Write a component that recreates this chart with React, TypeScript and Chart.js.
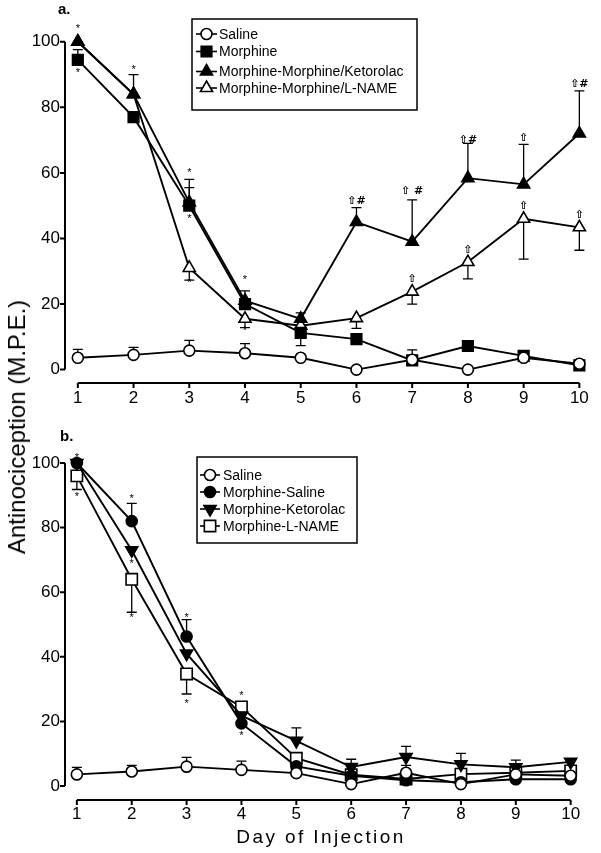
import React, { useEffect, useRef } from "react";
import { Chart, registerables } from "chart.js";
Chart.register(...registerables);

const DAYS = [1, 2, 3, 4, 5, 6, 7, 8, 9, 10];
const Y_TICKS = [0, 20, 40, 60, 80, 100];

// ---- Panel a ----
const A_LABELS = ["Saline", "Morphine", "Morphine-Morphine/Ketorolac", "Morphine-Morphine/L-NAME"];
const A_SALINE = [3.6, 4.5, 5.8, 5.0, 3.6, 0, 3.0, 0, 3.6, 1.8];
const A_MORPHINE = [94.5, 77, 50, 20, 11.2, 9.3, 2.8, 7.2, 4.2, 1.3];
const A_KETOROLAC = [100, 84, 51, 21, 15.5, 45, 39, 58.4, 56.5, 72];
const A_LNAME = [100, 84, 31, 15.5, 13.4, 15.7, 23.8, 32.8, 46, 43.4];
const A_SALINE_ERR = [6.2, 6.8, 8.9, 7.9, null, null, 6.0, null, null, null];
const A_MORPHINE_ERR = [97.6, null, 55.5, 24, 7.3, null, null, null, null, null];
const A_KETOROLAC_ERR = [null, 90, 58, null, 17.3, 49.4, 51.8, 69, 68.7, 85];
const A_LNAME_ERR = [null, null, 27.3, 12.8, null, 12.6, 20, 27.7, 33.7, 36.4];
const A_MARK_X = [1, 1, 2, 3, 3, 3, 4, 4, 6, 7, 8, 9, 10, 7, 8, 9, 10];
const A_MARK_Y = [104, 90.6, 91.5, 60, 46, 26.3, 27.2, 11.9, 51.3, 54.5, 70, 70.5, 87, 27.5, 36.5, 50, 47];
const A_MARK_T = ["*", "*", "*", "*", "*", "*", "*", "*", "\u21E7#", "\u21E7 #", "\u21E7#", "\u21E7", "\u21E7#", "\u21E7", "\u21E7", "\u21E7", "\u21E7"];

// ---- Panel b ----
const B_LABELS = ["Saline", "Morphine-Saline", "Morphine-Ketorolac", "Morphine-L-NAME"];
const B_SALINE = [3.6, 4.5, 6.0, 5.0, 4.0, 0.6, 4.1, 0.6, 3.6, 3.2];
const B_MSALINE = [100, 82, 46.3, 19.4, 6.1, 3.2, 1.8, 1.2, 2.1, 2.1];
const B_KETOROLAC = [100, 73, 41, 21.8, 14, 5.9, 9, 6.7, 5.8, 7.5];
const B_LNAME = [96, 64, 34.7, 24.5, 8.6, 3.5, 2.2, 3.7, 4.1, 4.7];
const B_SALINE_ERR = [5.8, 6.4, 8.9, 7.7, null, null, 6.4, null, null, null];
const B_MSALINE_ERR = [null, 87.5, 51.5, null, null, null, null, null, null, null];
const B_KETOROLAC_ERR = [null, null, null, null, 18, 8.3, 12.3, 10.1, 8, 8.4];
const B_LNAME_ERR = [91.8, 53.8, 28.5, null, null, null, null, null, null, null];
const B_MARK_X = [1, 1, 2, 2, 2, 3, 3, 4, 4];
const B_MARK_Y = [101.5, 89.5, 89, 68.7, 52, 52, 25.5, 28, 15.6];
const B_MARK_T = ["*", "*", "*", "*", "*", "*", "*", "*", "*"];

const FONT = "'Liberation Sans', Arial, Helvetica, sans-serif";

type PanelCfg = {
  label: string;
  labelPos: [number, number];
  xMin: number;
  xMax: number;
  yMin: number;
  yMax: number;
  padTop: number;
  xHeight: number;
  axisY: number;
  legend: { x: number; y: number; w: number; h: number; rows: number[]; lineX0: number; lineX1: number; textX: number };
  marks: { x: number[]; y: number[]; t: string[] };
};

function drawMarker(ctx: CanvasRenderingContext2D, style: string, rot: number, x: number, y: number, r: number, fill: string) {
  ctx.beginPath();
  if (style === "circle") {
    ctx.arc(x, y, r, 0, Math.PI * 2);
  } else if (style === "rect") {
    const s = r * Math.SQRT1_2;
    ctx.rect(x - s, y - s, 2 * s, 2 * s);
  } else {
    const d = rot === 180 ? -1 : 1;
    ctx.moveTo(x, y - d * r);
    ctx.lineTo(x + r * 0.866, y + d * r * 0.5);
    ctx.lineTo(x - r * 0.866, y + d * r * 0.5);
    ctx.closePath();
  }
  ctx.fillStyle = fill;
  ctx.fill();
  ctx.lineWidth = 1.6;
  ctx.strokeStyle = "#000";
  ctx.stroke();
}

const decorPlugin = {
  id: "decor",
  beforeDatasetsDraw(chart: any) {
    const ctx: CanvasRenderingContext2D = chart.ctx;
    const xs = chart.scales.x;
    const ys = chart.scales.y;
    ctx.save();
    ctx.strokeStyle = "#000";
    ctx.lineWidth = 1.3;
    chart.data.datasets.forEach((ds: any) => {
      const err = ds.errEnd as (number | null)[];
      if (!err) return;
      ds.data.forEach((p: any, i: number) => {
        const e = err[i];
        if (e === null || e === undefined) return;
        const px = xs.getPixelForValue(p.x);
        const py0 = ys.getPixelForValue(p.y);
        const py1 = ys.getPixelForValue(e);
        ctx.beginPath();
        ctx.moveTo(px, py0);
        ctx.lineTo(px, py1);
        ctx.moveTo(px - 5, py1);
        ctx.lineTo(px + 5, py1);
        ctx.stroke();
      });
    });
    ctx.restore();
  },
  afterDraw(chart: any) {
    const cfg: PanelCfg = chart.options.plugins.decor.cfg;
    const ctx: CanvasRenderingContext2D = chart.ctx;
    const xs = chart.scales.x;
    const ys = chart.scales.y;
    const left = chart.chartArea.left;
    ctx.save();
    ctx.strokeStyle = "#000";
    ctx.lineWidth = 2;
    // y axis
    ctx.beginPath();
    ctx.moveTo(left, ys.getPixelForValue(Y_TICKS[0]));
    ctx.lineTo(left, ys.getPixelForValue(Y_TICKS[Y_TICKS.length - 1]));
    Y_TICKS.forEach((v) => {
      const py = ys.getPixelForValue(v);
      ctx.moveTo(left - 5, py);
      ctx.lineTo(left, py);
    });
    ctx.stroke();
    // x axis (offset)
    ctx.beginPath();
    ctx.moveTo(xs.getPixelForValue(DAYS[0]), cfg.axisY);
    ctx.lineTo(xs.getPixelForValue(DAYS[DAYS.length - 1]), cfg.axisY);
    DAYS.forEach((d) => {
      const px = xs.getPixelForValue(d);
      ctx.moveTo(px, cfg.axisY);
      ctx.lineTo(px, cfg.axisY + 5);
    });
    ctx.stroke();

    // significance marks
    ctx.fillStyle = "#000";
    ctx.textAlign = "center";
    ctx.textBaseline = "middle";
    cfg.marks.t.forEach((t, i) => {
      ctx.font = t === "*" ? `11px ${FONT}` : `bold 11px 'DejaVu Sans', sans-serif`;
      ctx.fillText(t, xs.getPixelForValue(cfg.marks.x[i]), ys.getPixelForValue(cfg.marks.y[i]));
    });

    // legend
    const L = cfg.legend;
    ctx.lineWidth = 1.5;
    ctx.strokeRect(L.x, L.y, L.w, L.h);
    ctx.font = `14px ${FONT}`;
    ctx.textAlign = "left";
    chart.data.datasets.forEach((ds: any, i: number) => {
      const ry = L.rows[i];
      ctx.beginPath();
      ctx.lineWidth = 1.6;
      ctx.moveTo(L.lineX0, ry);
      ctx.lineTo(L.lineX1, ry);
      ctx.stroke();
      drawMarker(ctx, ds.pointStyle, ds.pointRotation || 0, (L.lineX0 + L.lineX1) / 2, ry, ds.pointRadius, ds.pointBackgroundColor);
      ctx.fillStyle = "#000";
      ctx.fillText(ds.label, L.textX, ry + 1);
    });

    // panel label
    ctx.font = `bold 15px ${FONT}`;
    ctx.textAlign = "left";
    ctx.fillText(cfg.label, cfg.labelPos[0], cfg.labelPos[1]);
    ctx.restore();
  },
};

function mkDataset(label: string, values: number[], err: (number | null)[], style: string, radius: number, fill: string, rotation = 0) {
  return {
    label,
    data: DAYS.map((d, i) => ({ x: d, y: values[i] })),
    errEnd: err,
    borderColor: "#000",
    borderWidth: 1.9,
    pointStyle: style,
    pointRotation: rotation,
    pointRadius: radius,
    pointBorderWidth: 1.6,
    pointBackgroundColor: fill,
    pointBorderColor: "#000",
    tension: 0,
    clip: false,
  };
}

function makeConfig(cfg: PanelCfg, datasets: any[]): any {
  return {
    type: "line",
    data: { datasets },
    options: {
      animation: false,
      responsive: false,
      maintainAspectRatio: false,
      events: [],
      layout: { padding: { top: cfg.padTop, right: 3, left: 0, bottom: 0 } },
      plugins: { legend: { display: false }, tooltip: { enabled: false }, decor: { cfg } },
      scales: {
        x: {
          type: "linear",
          min: cfg.xMin,
          max: cfg.xMax,
          afterBuildTicks: (s: any) => {
            s.ticks = DAYS.map((v) => ({ value: v }));
          },
          afterFit: (s: any) => {
            s.height = cfg.xHeight;
          },
          grid: { display: false, drawTicks: false },
          border: { display: false },
          ticks: { color: "#000", font: { family: FONT, size: 17 }, padding: 12, maxRotation: 0, autoSkip: false },
        },
        y: {
          min: cfg.yMin,
          max: cfg.yMax,
          afterBuildTicks: (s: any) => {
            s.ticks = Y_TICKS.map((v) => ({ value: v }));
          },
          afterFit: (s: any) => {
            s.width = 65;
          },
          grid: { display: false, drawTicks: false },
          border: { display: false },
          ticks: { color: "#000", font: { family: FONT, size: 17 }, padding: 5 },
        },
      },
    },
    plugins: [decorPlugin],
  };
}

const PANEL_A: PanelCfg = {
  label: "a.",
  labelPos: [58, 10],
  xMin: 0.77,
  xMax: 10.194,
  yMin: -1.95,
  yMax: 108.1,
  padTop: 10,
  xHeight: 44,
  axisY: 383,
  legend: { x: 192, y: 19, w: 225, h: 91, rows: [34, 51.5, 71.5, 88], lineX0: 196, lineX1: 217, textX: 219 },
  marks: { x: A_MARK_X, y: A_MARK_Y, t: A_MARK_T },
};

const PANEL_B: PanelCfg = {
  label: "b.",
  labelPos: [60, 17],
  xMin: 0.784,
  xMax: 10.378,
  yMin: -1.84,
  yMax: 108.6,
  padTop: 12,
  xHeight: 61,
  axisY: 380,
  legend: { x: 197, y: 37, w: 160, h: 86, rows: [55, 72, 89, 106], lineX0: 200, lineX1: 220, textX: 223 },
  marks: { x: B_MARK_X, y: B_MARK_Y, t: B_MARK_T },
};

function Panel({ cfg, datasets, top, height }: { cfg: PanelCfg; datasets: any[]; top: number; height: number }) {
  const ref = useRef<HTMLCanvasElement | null>(null);
  useEffect(() => {
    if (!ref.current) return;
    const chart = new Chart(ref.current, makeConfig(cfg, datasets));
    return () => chart.destroy();
  }, []);
  return (
    <canvas
      ref={ref}
      width={601}
      height={height}
      style={{ position: "absolute", left: 0, top, width: 601, height }}
    />
  );
}

export default function App() {
  const dsA = [
    mkDataset(A_LABELS[0], A_SALINE, A_SALINE_ERR, "circle", 5.5, "#fff"),
    mkDataset(A_LABELS[1], A_MORPHINE, A_MORPHINE_ERR, "rect", 7.5, "#000"),
    mkDataset(A_LABELS[2], A_KETOROLAC, A_KETOROLAC_ERR, "triangle", 7, "#000"),
    mkDataset(A_LABELS[3], A_LNAME, A_LNAME_ERR, "triangle", 7, "#fff"),
  ];
  const dsB = [
    mkDataset(B_LABELS[0], B_SALINE, B_SALINE_ERR, "circle", 5.5, "#fff"),
    mkDataset(B_LABELS[1], B_MSALINE, B_MSALINE_ERR, "circle", 5.5, "#000"),
    mkDataset(B_LABELS[2], B_KETOROLAC, B_KETOROLAC_ERR, "triangle", 7, "#000", 180),
    mkDataset(B_LABELS[3], B_LNAME, B_LNAME_ERR, "rect", 8, "#fff"),
  ];
  return (
    <div style={{ position: "absolute", left: 0, top: 0, width: 601, height: 853, background: "#fff", overflow: "hidden" }}>
      <Panel cfg={PANEL_A} datasets={dsA} top={0} height={420} />
      <Panel cfg={PANEL_B} datasets={dsB} top={420} height={433} />
      <div
        style={{
          position: "absolute",
          left: 17,
          top: 427,
          transform: "translate(-50%, -50%) rotate(-90deg)",
          whiteSpace: "nowrap",
          fontFamily: FONT,
          fontSize: 24,
          lineHeight: "24px",
          color: "#000",
        }}
      >
        Antinociception (M.P.E.)
      </div>
      <div
        style={{
          position: "absolute",
          left: 321,
          top: 837,
          transform: "translate(-50%, -50%)",
          whiteSpace: "nowrap",
          fontFamily: FONT,
          fontSize: 19,
          letterSpacing: "2.4px",
          lineHeight: "20px",
          color: "#000",
        }}
      >
        Day of Injection
      </div>
    </div>
  );
}
